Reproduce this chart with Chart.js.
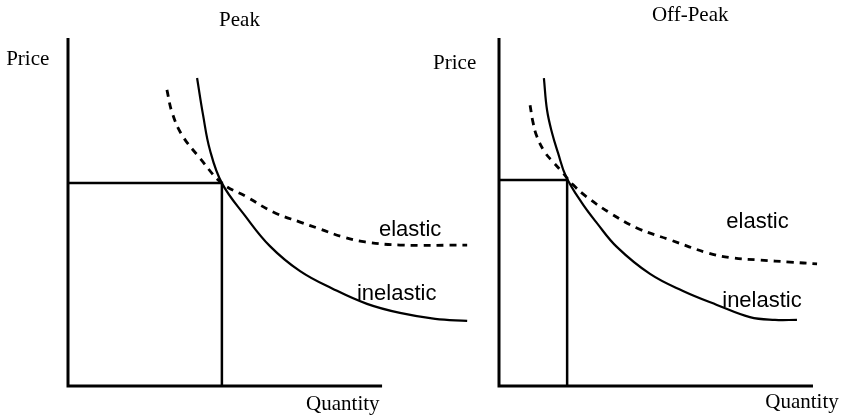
<!DOCTYPE html>
<html>
<head>
<meta charset="utf-8">
<script src="https://cdn.jsdelivr.net/npm/chart.js@4.4.1/dist/chart.umd.min.js"></script>
<style>
    body { margin: 0; background: #fff; }
    #wrap { position: relative; width: 851px; height: 418px; }
    #wrap canvas { position: absolute; left: 0; top: 0; }
</style>
</head>
<body>
<div id="wrap">
    <canvas id="peakChart" width="851" height="418"></canvas>
    <canvas id="offPeakChart" width="851" height="418"></canvas>
</div>
<script>
// axes run from 0 to 10 in both panels
const axisMax = 10;

// Peak panel
const peakQ = 4.90;
const peakP = 5.83;
const peakInelasticQ = [4.11, 4.30, 4.52, 4.90, 5.64, 6.43, 7.39, 8.44, 9.52, 10.57, 11.69, 12.71];
const peakInelasticP = [8.85, 7.79, 6.78, 5.83, 4.89, 4.02, 3.30, 2.79, 2.36, 2.10, 1.93, 1.87];
const peakElasticQ = [3.15, 3.31, 3.63, 4.20, 4.90, 5.70, 6.53, 7.39, 8.03, 8.76, 9.46, 10.57, 12.71];
const peakElasticP = [8.51, 7.87, 7.21, 6.55, 5.83, 5.43, 5.00, 4.71, 4.51, 4.28, 4.14, 4.05, 4.05];

// Off-peak panel
const offPeakQ = 2.17;
const offPeakP = 5.92;
const offPeakInelasticQ = [1.43, 1.53, 1.69, 1.88, 2.13, 2.64, 3.12, 3.76, 4.81, 5.86, 6.94, 7.99, 8.79, 9.49];
const offPeakInelasticP = [8.85, 7.93, 7.27, 6.70, 6.03, 5.26, 4.68, 3.99, 3.22, 2.73, 2.33, 1.98, 1.90, 1.90];
const offPeakElasticQ = [0.99, 1.08, 1.21, 1.46, 1.72, 2.01, 2.36, 2.80, 3.54, 4.39, 5.45, 6.66, 7.45, 8.31, 9.27, 10.13];
const offPeakElasticP = [8.07, 7.59, 7.16, 6.72, 6.44, 6.15, 5.78, 5.43, 4.97, 4.54, 4.20, 3.82, 3.68, 3.62, 3.56, 3.51];

function toPoints(qs, ps) {
    return qs.map((q, i) => ({ x: q, y: ps[i] }));
}

function textPlugin(items) {
    return {
        id: 'textLabels',
        afterDraw(chart) {
            const ctx = chart.ctx;
            const xs = chart.scales.x;
            const ys = chart.scales.y;
            ctx.save();
            ctx.fillStyle = '#000';
            ctx.textBaseline = 'alphabetic';
            items.forEach(it => {
                ctx.font = it.font;
                ctx.textAlign = it.align;
                ctx.fillText(it.text, xs.getPixelForValue(it.x), ys.getPixelForValue(it.y));
            });
            ctx.restore();
        }
    };
}

const serif = '21px "Liberation Serif"';
const sans = '22px "Liberation Sans"';

function loadPanel(id, panel) {
    const ctx = document.getElementById(id);

    const lineStyle = {
        borderColor: '#000',
        pointRadius: 0,
        showLine: true,
        fill: false,
        clip: false
    };

    const data = {
        datasets: [
            // axes
            { ...lineStyle, data: [{ x: 0, y: axisMax }, { x: 0, y: 0 }, { x: axisMax, y: 0 }], borderWidth: 3 },
            // price / quantity box
            { ...lineStyle, data: [{ x: 0, y: panel.p }, { x: panel.q, y: panel.p }, { x: panel.q, y: 0 }], borderWidth: 2.5 },
            // inelastic demand
            { ...lineStyle, data: toPoints(panel.inelasticQ, panel.inelasticP), borderWidth: 2.2, tension: 0.4 },
            // elastic demand
            { ...lineStyle, data: toPoints(panel.elasticQ, panel.elasticP), borderWidth: 2.8, borderDash: [7, 6], tension: 0.4 }
        ]
    };

    new Chart(ctx, {
        type: 'scatter',
        data: data,
        plugins: [textPlugin(panel.labels)],
        options: {
            responsive: false,
            animation: false,
            events: [],
            layout: { padding: panel.padding },
            plugins: {
                legend: { display: false },
                tooltip: { enabled: false }
            },
            scales: {
                x: { type: 'linear', display: false, min: 0, max: panel.xMax },
                y: { type: 'linear', display: false, min: 0, max: axisMax }
            }
        }
    });
}

loadPanel('peakChart', {
    q: peakQ, p: peakP,
    inelasticQ: peakInelasticQ, inelasticP: peakInelasticP,
    elasticQ: peakElasticQ, elasticP: peakElasticP,
    xMax: 12.8,
    padding: { left: 68, right: 381, top: 38, bottom: 32 },
    labels: [
        { text: 'Peak', x: 5.46, y: 10.34, font: serif, align: 'center' },
        { text: 'Price', x: -1.97, y: 9.22, font: serif, align: 'left' },
        { text: 'Quantity', x: 7.58, y: -0.69, font: serif, align: 'left' },
        { text: 'elastic', x: 9.90, y: 4.31, font: sans, align: 'left' },
        { text: 'inelastic', x: 9.20, y: 2.47, font: sans, align: 'left' }
    ]
});

loadPanel('offPeakChart', {
    q: offPeakQ, p: offPeakP,
    inelasticQ: offPeakInelasticQ, inelasticP: offPeakInelasticP,
    elasticQ: offPeakElasticQ, elasticP: offPeakElasticP,
    xMax: 10.3,
    padding: { left: 499, right: 28.6, top: 38, bottom: 32 },
    labels: [
        { text: 'Off-Peak', x: 6.09, y: 10.49, font: serif, align: 'center' },
        { text: 'Price', x: -2.10, y: 9.11, font: serif, align: 'left' },
        { text: 'Quantity', x: 8.48, y: -0.63, font: serif, align: 'left' },
        { text: 'elastic', x: 7.24, y: 4.54, font: sans, align: 'left' },
        { text: 'inelastic', x: 7.11, y: 2.27, font: sans, align: 'left' }
    ]
});
</script>
</body>
</html>
